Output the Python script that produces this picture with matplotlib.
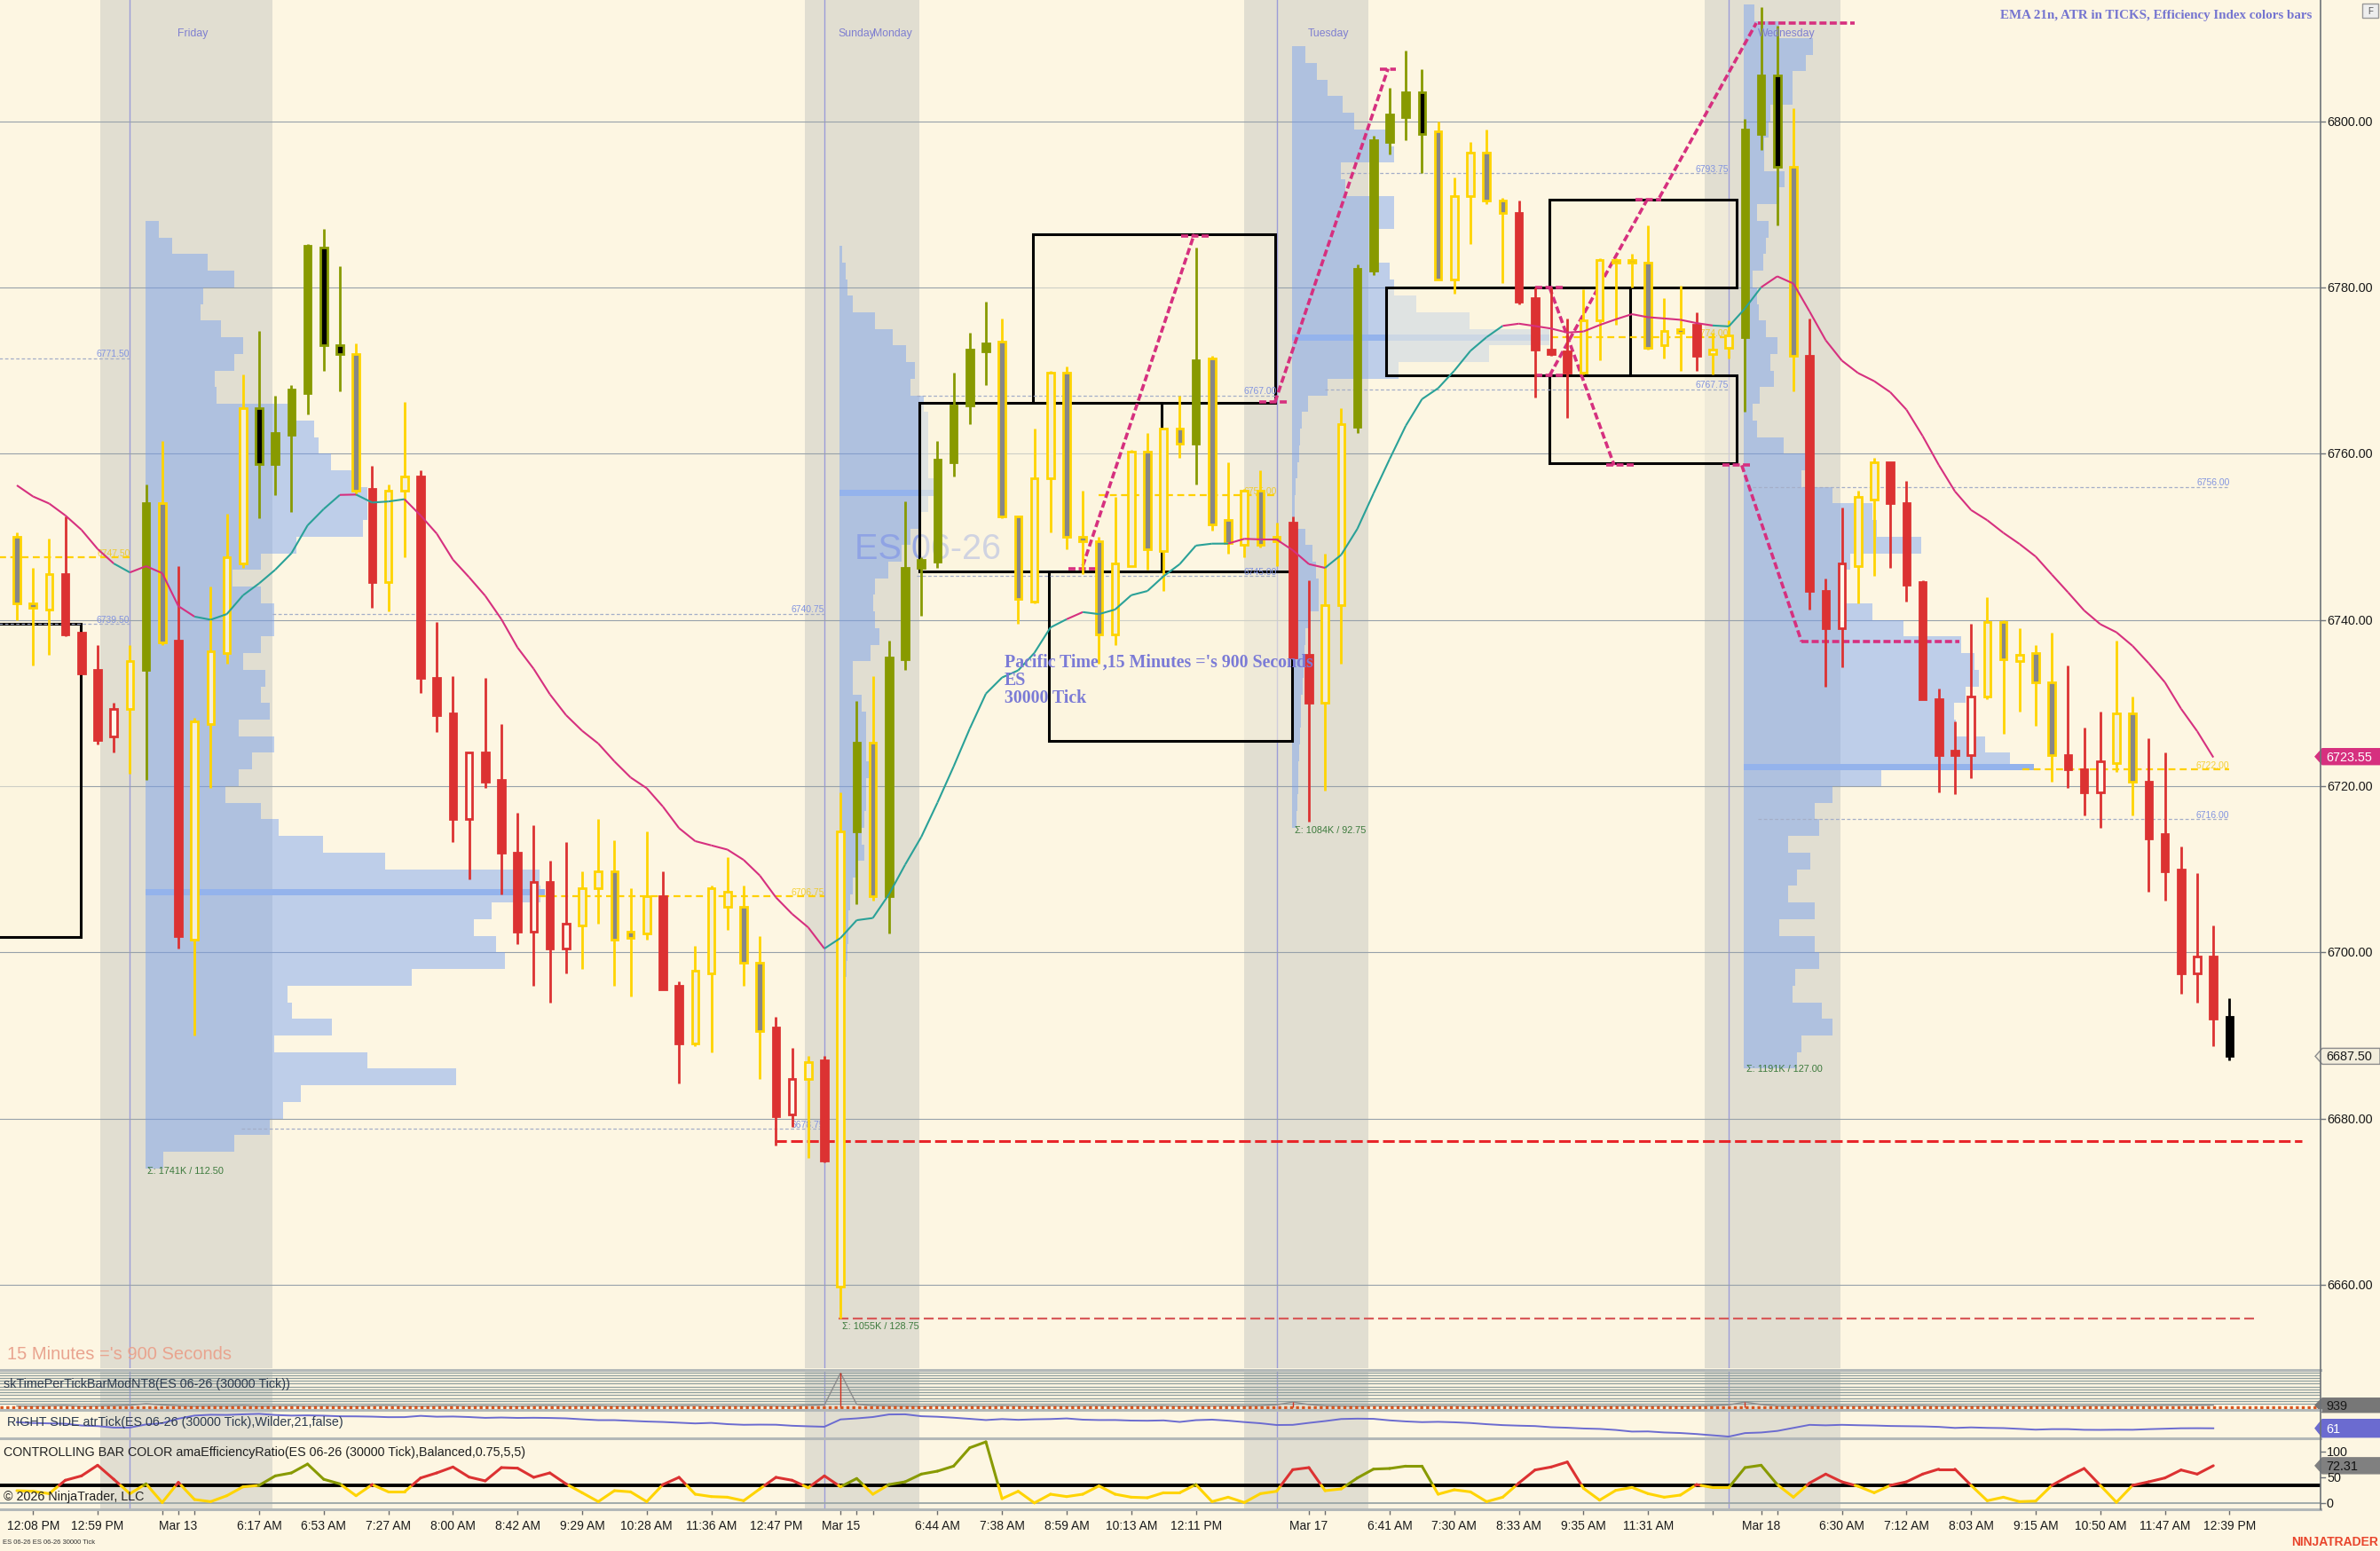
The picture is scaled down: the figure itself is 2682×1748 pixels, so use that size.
import numpy as np
import matplotlib
matplotlib.use("Agg")
import matplotlib.pyplot as plt
from matplotlib.patches import Rectangle, Polygon
from matplotlib.collections import LineCollection
from matplotlib.transforms import blended_transform_factory

plt.rcParams['font.family'] = ['Liberation Sans', 'DejaVu Sans']

# ---------------- data ----------------
# bar colours set by the efficiency indicator: r = red, y = yellow, g = olive, k = live bar
bar_colors = ("yyyrrrrygy" "ryyyyggggg" "gyryyrrrrr" "rrrrryyyyy" "rryyyyyrry"
              "rygygggggg" "gyyyyyyyyy" "yyygyyyyyr" "ryygggggyy" "yyyrrrryyy"
              "yyyyryyggg" "yrrryyrrrr" "rryyyyyrrr" "yyrrrrrk")

opens = [
    6750.0, 6742.0, 6741.25, 6745.5, 6738.5, 6734.0, 6726.0, 6729.25, 6734.0, 6754.0,
    6737.5, 6701.5, 6727.5, 6736.0, 6746.75, 6765.5, 6758.75, 6762.25, 6767.25, 6784.75,
    6773.0, 6772.0, 6755.75, 6744.5, 6755.5, 6757.25, 6733.0, 6728.75, 6716.0, 6724.0,
    6720.75, 6712.0, 6702.5, 6708.5, 6700.5, 6703.25, 6707.75, 6709.75, 6702.5, 6702.25,
    6706.75, 6696.0, 6689.0, 6697.5, 6705.5, 6705.5, 6698.75, 6691.0, 6680.5, 6684.75,
    6687.0, 6659.75, 6714.5, 6725.25, 6706.75, 6735.25, 6746.25, 6747.0, 6759.0, 6765.75,
    6772.25, 6773.5, 6752.5, 6742.25, 6757.0, 6769.75, 6750.0, 6749.5, 6738.25, 6746.5,
    6760.25, 6748.25, 6763.0, 6761.25, 6771.5, 6752.0, 6749.0, 6755.5, 6750.0, 6751.75,
    6735.75, 6730.0, 6741.75, 6763.25, 6782.0, 6797.5, 6800.5, 6803.5, 6798.75, 6781.0,
    6791.0, 6796.25, 6790.5, 6789.0, 6778.75, 6772.5, 6772.25, 6769.75, 6776.0, 6783.25,
    6783.25, 6783.0, 6773.0, 6775.0, 6775.5, 6772.0, 6772.75, 6774.0, 6798.5, 6805.5,
    6794.5, 6771.75, 6743.5, 6739.0, 6746.5, 6754.5, 6759.0, 6754.0, 6744.5, 6730.5,
    6724.25, 6723.75, 6730.75, 6739.75, 6735.0, 6736.0, 6732.5, 6723.75, 6722.0, 6719.25,
    6722.75, 6728.75, 6720.5, 6714.25, 6710.0, 6697.5, 6699.5, 6692.25]
highs = [
    6750.5, 6746.25, 6749.75, 6752.5, 6738.5, 6737.0, 6730.0, 6737.0, 6756.25, 6761.5,
    6746.5, 6728.25, 6744.0, 6752.75, 6769.5, 6774.75, 6767.0, 6768.25, 6785.25, 6787.0,
    6782.5, 6773.25, 6758.5, 6756.25, 6766.25, 6758.0, 6739.75, 6733.25, 6724.0, 6733.0,
    6727.5, 6716.75, 6715.25, 6711.0, 6713.25, 6709.75, 6716.0, 6713.5, 6707.75, 6714.5,
    6709.75, 6696.5, 6700.75, 6708.0, 6711.5, 6708.0, 6702.0, 6692.25, 6688.5, 6687.5,
    6687.5, 6719.25, 6730.25, 6733.25, 6737.5, 6754.25, 6747.5, 6761.5, 6769.75, 6774.5,
    6778.25, 6776.25, 6752.5, 6763.0, 6770.0, 6770.5, 6755.5, 6750.0, 6754.75, 6760.5,
    6762.5, 6763.0, 6767.0, 6784.75, 6771.75, 6759.0, 6755.75, 6758.0, 6751.75, 6752.5,
    6744.75, 6748.0, 6765.5, 6782.75, 6798.25, 6804.0, 6808.5, 6806.25, 6800.0, 6793.25,
    6797.5, 6799.0, 6790.75, 6790.5, 6780.0, 6780.0, 6776.25, 6779.75, 6783.5, 6783.5,
    6784.0, 6787.5, 6778.75, 6780.25, 6777.0, 6774.5, 6776.0, 6800.25, 6813.75, 6811.5,
    6801.5, 6776.25, 6745.0, 6753.5, 6755.5, 6759.5, 6759.0, 6756.75, 6744.75, 6731.75,
    6727.75, 6739.5, 6742.75, 6740.0, 6739.0, 6737.0, 6738.5, 6734.5, 6727.0, 6729.0,
    6737.5, 6730.75, 6725.75, 6724.0, 6712.75, 6709.5, 6703.25, 6694.5]
lows = [
    6740.0, 6734.5, 6735.75, 6738.0, 6733.5, 6725.0, 6724.0, 6721.5, 6720.75, 6737.0,
    6700.5, 6690.0, 6719.75, 6734.75, 6746.25, 6752.25, 6755.0, 6753.0, 6764.75, 6770.0,
    6767.5, 6755.0, 6741.5, 6741.0, 6747.5, 6731.25, 6726.5, 6713.25, 6708.75, 6719.75,
    6707.0, 6701.0, 6696.0, 6694.0, 6697.5, 6698.0, 6703.5, 6696.0, 6694.75, 6701.5,
    6695.5, 6684.25, 6688.75, 6688.0, 6702.75, 6696.0, 6684.75, 6676.75, 6679.0, 6675.25,
    6674.75, 6656.0, 6705.75, 6706.25, 6702.25, 6734.0, 6740.5, 6746.25, 6757.25, 6763.5,
    6768.25, 6752.25, 6739.5, 6742.0, 6750.5, 6748.5, 6745.5, 6734.75, 6737.0, 6746.5,
    6746.0, 6743.5, 6759.5, 6756.25, 6750.75, 6748.0, 6747.5, 6748.75, 6746.5, 6735.5,
    6715.75, 6719.5, 6734.75, 6762.5, 6781.5, 6796.0, 6797.75, 6793.75, 6781.0, 6779.25,
    6785.25, 6790.0, 6780.5, 6778.0, 6766.75, 6771.75, 6764.25, 6769.5, 6771.25, 6775.5,
    6780.0, 6772.5, 6771.5, 6770.0, 6770.0, 6769.5, 6771.5, 6765.0, 6796.5, 6787.5,
    6767.5, 6741.25, 6732.0, 6734.25, 6742.0, 6745.25, 6746.25, 6742.25, 6730.5, 6719.25,
    6719.0, 6721.0, 6730.5, 6726.25, 6729.0, 6727.25, 6720.5, 6719.75, 6716.5, 6715.0,
    6721.75, 6716.5, 6707.25, 6706.25, 6695.0, 6694.0, 6688.75, 6687.0]
closes = [
    6742.0, 6741.5, 6745.5, 6738.25, 6733.5, 6725.5, 6729.25, 6735.0, 6754.0, 6737.25,
    6702.0, 6727.75, 6736.25, 6747.5, 6765.5, 6758.75, 6762.5, 6767.75, 6785.0, 6773.0,
    6772.0, 6755.5, 6744.5, 6755.5, 6757.25, 6733.0, 6728.5, 6716.0, 6724.0, 6720.5,
    6712.0, 6702.5, 6708.5, 6700.5, 6703.5, 6707.75, 6709.75, 6701.5, 6701.75, 6706.75,
    6695.5, 6689.0, 6697.75, 6707.75, 6707.25, 6698.75, 6690.5, 6680.25, 6684.75, 6686.75,
    6675.0, 6714.5, 6725.25, 6706.75, 6735.5, 6746.25, 6747.25, 6759.25, 6765.75, 6772.5,
    6773.25, 6752.5, 6742.5, 6757.0, 6769.75, 6750.0, 6749.5, 6738.25, 6746.75, 6760.25,
    6748.5, 6763.0, 6761.25, 6771.25, 6751.5, 6749.25, 6755.5, 6749.0, 6749.5, 6735.5,
    6730.0, 6741.75, 6763.5, 6782.25, 6797.75, 6800.75, 6803.5, 6798.5, 6781.0, 6791.0,
    6796.25, 6790.5, 6789.0, 6778.25, 6772.5, 6772.0, 6769.75, 6776.0, 6783.25, 6783.0,
    6783.0, 6772.75, 6774.75, 6774.5, 6771.75, 6772.5, 6774.25, 6799.0, 6805.5, 6794.5,
    6771.75, 6743.5, 6739.0, 6746.75, 6754.75, 6759.0, 6754.0, 6744.25, 6730.5, 6723.75,
    6723.75, 6730.75, 6739.75, 6735.25, 6735.75, 6732.5, 6723.75, 6722.0, 6719.25, 6723.0,
    6728.75, 6720.5, 6713.75, 6709.75, 6697.5, 6699.5, 6692.0, 6687.5]

ema_seed = 6757.6      # EMA value before first visible bar
atr_seed = 69.0        # ATR (ticks) before first visible bar
tick_size = 0.25

# values printed in the right-hand tags of the reference
ema_tag_value = 6723.55
atr_tag_value = 61

# efficiency ratio (closed bars only)
eff_ratio = [
    23.8, 22.6, 18.0, 44.0, 52.5, 73.2, 45.9, 18.0, 37.0, 0.8,
    39.9, 6.6, 2.5, 14.0, 31.3, 34.1, 52.5, 58.3, 75.5, 45.9,
    37.0, 14.0, 35.6, 21.5, 21.5, 48.5, 58.3, 69.8, 50.2, 42.8,
    68.6, 67.5, 49.7, 58.3, 37.0, 19.8, 2.5, 23.8, 21.5, 2.5,
    35.6, 49.7, 16.9, 12.3, 11.1, 4.3, 27.2, 49.7, 44.0, 29.5,
    52.5, 31.3, 47.4, 16.9, 35.6, 41.0, 56.0, 61.7, 71.5, 107.1,
    118.6, 8.3, 22.6, 0.0, 16.9, 12.3, 16.9, 33.0, 16.9, 11.1,
    10.0, 19.8, 19.8, 35.6, 2.5, 11.1, 0.8, 18.0, 22.6, 64.6,
    68.6, 23.8, 27.2, 48.5, 65.7, 66.9, 71.5, 71.5, 16.9, 25.5,
    21.5, 2.5, 11.1, 38.7, 64.0, 69.8, 79.5, 28.4, 5.4, 24.4,
    30.1, 18.0, 11.1, 15.2, 35.6, 29.9, 29.9, 68.6, 73.2, 35.6,
    11.1, 38.7, 56.0, 41.0, 32.4, 19.8, 34.1, 41.0, 56.0, 65.7,
    65.7, 34.1, 4.3, 11.1, 2.5, 3.6, 34.1, 51.4, 66.9, 34.1,
    1.3, 34.1, 41.0, 48.5, 64.0, 56.0, 72.31]
er_threshold = 34.0

# seconds per 30000-tick bar
bar_seconds = [
    921, 918, 925, 930, 917, 922, 928, 940, 975, 945,
    926, 919, 924, 921, 930, 918, 922, 927, 920, 925,
    923, 919, 926, 930, 921, 917, 924, 928, 920, 926,
    922, 918, 925, 929, 921, 924, 927, 919, 923, 926,
    920, 925, 928, 918, 924, 921, 927, 923, 919, 935,
    945, 1700, 960, 930, 924, 921, 918, 926, 922, 925,
    920, 927, 923, 919, 926, 921, 924, 928, 920, 925,
    922, 926, 919, 924, 921, 927, 923, 930, 950, 1015,
    955, 926, 921, 918, 925, 922, 920, 927, 923, 926,
    919, 924, 928, 921, 925, 918, 922, 926, 920, 924,
    927, 921, 925, 919, 923, 930, 948, 1015, 955, 924,
    921, 926, 918, 925, 922, 927, 920, 924, 928, 921,
    925, 919, 923, 926, 920, 924, 927, 921, 925, 930,
    926, 932, 929, 934, 936, 937, 939]
bar_seconds_limit = 900

# sessions (bar positions)
session_bands = [(5.15, 15.8), (48.8, 55.9), (75.97, 83.7), (104.5, 112.9)]
session_lines = [7, 50, 78, 106]
day_labels = [(10.9, "Friday"), (52.0, "Sunday"), (54.2, "Monday"), (81.2, "Tuesday"), (109.6, "Wednesday")]

# volume profiles: first bar of session, top price, relative volume per 2-point row (top -> down), POC
profile_start = [8, 51, 79, 107]
profile_top = [6788, 6785, 6809, 6814]
profile_poc = [6707.25, 6755.25, 6774.0, 6722.25]
profile_poc_vol = [450, 106, 290, 327]
profile_sum = ["Σ: 1741K / 112.50", "Σ: 1055K / 128.75", "Σ: 1084K / 92.75", "Σ: 1191K / 127.00"]
profile_sum_price = [6673.8, 6655.1, 6714.8, 6686.1]
prof_fri = [15, 30, 70, 100, 65, 62, 85, 110, 100, 78, 80, 160, 190, 195, 209, 240, 250, 250, 245, 170,
            130, 98, 130, 145, 145, 130, 110, 135, 130, 140, 105, 145, 120, 105, 90, 130,
            150, 200, 270, 444, 445, 390, 370, 395, 405, 300, 160, 165, 210, 145, 250, 350, 175, 155, 140, 100, 20]
prof_mon = [3, 7, 9, 15, 40, 60, 75, 85, 80, 95, 100, 100, 100, 100, 106, 100, 90, 80, 70, 55,
            40, 38, 40, 45, 35, 15, 15, 25, 30, 30, 30, 35, 30, 30, 28, 25, 28, 20, 15, 12,
            10, 10, 9, 8, 6, 5, 5, 4, 4, 4, 3, 3, 3, 3, 3, 3, 3, 3, 3, 2, 2, 2, 2, 2]
prof_tue = [15, 28, 40, 57, 70, 110, 115, 55, 60, 115, 115, 95, 90, 110, 115, 140, 200, 290, 222, 120,
            40, 18, 11, 9, 8, 6, 4, 3, 3, 15, 23, 27, 30, 30, 20, 15, 14, 13, 12, 10, 10, 9, 8, 7, 7, 6, 5]
prof_wed = [12, 40, 78, 70, 55, 55, 30, 28, 23, 23, 46, 40, 15, 28, 25, 22, 10, 15, 17, 25,
            38, 30, 34, 18, 10, 15, 45, 70, 65, 100, 145, 150, 200, 120, 108, 112, 145, 180, 245, 260,
            265, 250, 237, 239, 272, 300, 155, 100, 80, 85, 50, 75, 60, 50, 80, 40, 80, 85, 58, 55,
            88, 100, 65, 60]
profiles = [prof_fri, prof_mon, prof_tue, prof_wed]

# naked levels: price, from bar, to bar, kind, label
levels = [
    (6771.5, -1.1, 7.0, 'b', "6771.50"), (6747.5, -1.1, 7.0, 'y', "6747.50"),
    (6739.5, -1.1, 7.0, 'b', "6739.50"), (6740.75, 15.8, 50.0, 'b', "6740.75"),
    (6706.75, 32.3, 50.0, 'y', "6706.75"), (6678.75, 13.9, 50.0, 'b', "6678.75"),
    (6767.0, 55.7, 78.0, 'b', "6767.00"), (6755.0, 67.0, 78.0, 'y', "6755.00"),
    (6745.25, 55.7, 78.0, 'b', "6745.00"), (6793.75, 82.0, 106.0, 'b', "6793.75"),
    (6774.0, 95.0, 106.0, 'y', "6774.00"), (6767.75, 81.0, 106.0, 'b', "6767.75"),
    (6756.0, 107.5, 137.0, 'b', "6756.00"), (6722.0, 124.2, 137.0, 'y', "6722.00"),
    (6716.0, 107.8, 137.0, 'b', "6716.00")]

# drawn rectangles: bar0, bar1, price0, price1
boxes = [(-3.0, 3.96, 6701.9, 6739.5), (62.9, 77.9, 6766.1, 6786.4), (55.9, 70.9, 6745.8, 6766.1),
         (63.9, 78.95, 6725.4, 6745.8), (84.8, 99.9, 6769.4, 6780.0), (94.9, 106.5, 6780.0, 6790.6),
         (94.9, 106.5, 6758.8, 6769.4)]
# drawn swing lines (bar, price, bar, price)
swing_lines = [(66.0, 6746.5, 72.9, 6786.4), (77.9, 6766.2, 84.9, 6806.3),
               (94.9, 6780.0, 98.9, 6758.6), (94.9, 6769.4, 100.9, 6790.4),
               (101.7, 6790.8, 107.7, 6811.8), (106.8, 6758.6, 110.5, 6737.4)]
swing_ticks = [(65.1, 66.9, 6746.2), (72.1, 73.8, 6786.2), (76.9, 78.8, 6766.2), (84.4, 85.4, 6806.3),
               (94.0, 95.7, 6780.0), (94.0, 95.7, 6769.4), (98.4, 100.1, 6758.6), (100.2, 101.8, 6790.6),
               (107.8, 113.8, 6811.85), (105.6, 107.3, 6758.6), (110.5, 120.3, 6737.4)]
stop_lines = [(46.9, 141.5, 6677.25, 'main'), (50.9, 138.5, 6656.0, 'low')]

# EMA colour: teal segments (start bar, end bar)
ema_teal = [(6, 7), (11, 20), (21, 24), (50, 65), (66, 75), (81, 92), (105, 108)]

time_ticks = [1, 5, 10, 15, 19, 23, 27, 31, 35, 39, 43, 47, 51, 57, 61, 65, 69, 73,
              80, 85, 89, 93, 97, 101, 108, 113, 117, 121, 125, 129, 133, 137]
time_labels = ["12:08 PM", "12:59 PM", "Mar 13", "6:17 AM", "6:53 AM", "7:27 AM", "8:00 AM",
               "8:42 AM", "9:29 AM", "10:28 AM", "11:36 AM", "12:47 PM", "Mar 15", "6:44 AM",
               "7:38 AM", "8:59 AM", "10:13 AM", "12:11 PM", "Mar 17", "6:41 AM", "7:30 AM",
               "8:33 AM", "9:35 AM", "11:31 AM", "Mar 18", "6:30 AM", "7:12 AM", "8:03 AM",
               "9:15 AM", "10:50 AM", "11:47 AM", "12:39 PM"]
time_minor = [9, 11, 52, 53, 81, 105, 109]
price_ticks = [6660, 6680, 6700, 6720, 6740, 6760, 6780, 6800]

# ---------------- style ----------------
W, H = 2682, 1749
BG = '#FDF6E2'
BAND = '#E1DED1'
RED = '#DC3232'
YEL = '#FFD400'
OLV = '#889A00'
MAG = '#D6307F'
TEAL = '#2AA198'
PROF = (0.45, 0.62, 0.95, 0.45)
BAR_W = 18.2                    # pixels per bar
XMIN, XMAX = -19 / BAR_W, (2615 - 19) / BAR_W


def fy(py):
    return 1 - py / H


fig = plt.figure(figsize=(W / 100, H / 100), dpi=100, facecolor=BG)
ax = fig.add_axes([0, fy(1543), 2615 / W, 1543 / H])
ax_sk = fig.add_axes([0, fy(1589), 2615 / W, 44 / H])
ax_atr = fig.add_axes([0, fy(1622), 2615 / W, 32 / H])
ax_er = fig.add_axes([0, fy(1702), 2615 / W, 80 / H])
for a in (ax, ax_sk, ax_atr, ax_er):
    a.set_facecolor(BG)
    a.set_xlim(XMIN, XMAX)
    for s in a.spines.values():
        s.set_visible(False)
    a.set_xticks([])
    a.set_yticks([])
    for b0, b1 in session_bands:
        a.axvspan(b0, b1, color=BAND, lw=0, zorder=0)
    for x in session_lines:
        a.axvline(x, color='#9C9CD8', lw=1.0, zorder=1)

ax.set_ylim(6649.97, 6814.68)
for p in price_ticks:
    ax.axhline(p, color='#97A1AA', lw=0.8, zorder=1)

# volume profiles
for start, top, vols, poc, pocv in zip(profile_start, profile_top, profiles, profile_poc, profile_poc_vol):
    centers = [top - 1 - 2 * k for k in range(len(vols))]
    ax.barh(centers, [v / BAR_W for v in vols], height=2.0, left=start - 0.05,
            color=PROF, lw=0, zorder=2)
    ax.barh([poc], [pocv / BAR_W], height=0.75, left=start - 0.05, color='#94B3EC', lw=0, zorder=2.5)
for start, txt, p in zip(profile_start, profile_sum, profile_sum_price):
    ax.text(start + 0.1, p, txt, fontsize=7.8, color='#3C7A3C', va='center', ha='left', zorder=3)

# watermark
ax.text(56.4, 6748.6, "ES 06-26", fontsize=28.5, color='#8A9EE6', alpha=0.85,
        ha='center', va='center', zorder=2.8)

# rectangles
for x0, x1, p0, p1 in boxes:
    ax.add_patch(Rectangle((x0, p0), x1 - x0, p1 - p0, facecolor=(0.99, 0.96, 0.87, 0.55),
                           edgecolor='black', lw=2.2, zorder=3))

# naked levels
for lvl, x0, x1, kind, lab in levels:
    if kind == 'y':
        ax.plot([x0, x1], [lvl, lvl], color='#FFD000', lw=1.6, dashes=(3.5, 2.2), zorder=3.5)
        ax.text(x1, lvl + 0.05, lab, fontsize=7.5, color='#F2C400', alpha=0.75,
                ha='right', va='bottom', zorder=3.6)
    else:
        ax.plot([x0, x1], [lvl, lvl], color='#A4AEC8', lw=0.9, dashes=(3, 2), zorder=3.5)
        ax.text(x1, lvl + 0.05, lab, fontsize=7.5, color='#8294E0',
                ha='right', va='bottom', zorder=3.6)

# stop lines
for x0, x1, p, kind in stop_lines:
    if kind == 'main':
        ax.plot([x0, x1], [p, p], color='#E8262A', lw=2.2, dashes=(4.3, 1.6), zorder=4)
    else:
        ax.plot([x0, x1], [p, p], color='#D85A5A', lw=1.6, dashes=(5, 2.2), zorder=4)

# swing drawings
for x0, p0, x1, p1 in swing_lines:
    ax.plot([x0, x1], [p0, p1], color=MAG, lw=2.6, dashes=(2.2, 1.0), zorder=4)
for x0, x1, p in swing_ticks:
    ax.plot([x0, x1], [p, p], color=MAG, lw=2.6, dashes=(2.2, 1.0), zorder=4)

# candles
n = len(closes)
xs = np.arange(n)
face_map = {('r', True): '#FFF8EA', ('r', False): RED, ('y', True): '#F3EEDC', ('y', False): '#878787',
            ('g', True): OLV, ('g', False): 'black', ('k', True): 'black', ('k', False): 'black'}
edge_map = {'r': RED, 'y': YEL, 'g': OLV, 'k': 'black'}
wick_cols = [edge_map[c] for c in bar_colors]
ax.vlines(xs, lows, highs, colors=wick_cols, lw=2.0, zorder=5)
bottoms = [min(o, c) for o, c in zip(opens, closes)]
heights = [max(abs(c - o), 0.12) for o, c in zip(opens, closes)]
faces = [face_map[(col, c >= o)] for col, o, c in zip(bar_colors, opens, closes)]
ax.bar(xs, heights, bottom=bottoms, width=0.42, color=faces, edgecolor=wick_cols, lw=2.0, zorder=6)

# EMA 21 on closed bars
ema = []
e = ema_seed
for c in closes[:-1]:
    e += (c - e) * 2.0 / 22.0
    ema.append(e)
segs, cols = [], []
for i in range(1, len(ema)):
    teal = any(a <= i - 1 < b for a, b in ema_teal)
    segs.append([(i - 1, ema[i - 1]), (i, ema[i])])
    cols.append(TEAL if teal else MAG)
ax.add_collection(LineCollection(segs, colors=cols, lw=1.5, zorder=7))

# text annotations on price panel
tr_xa = blended_transform_factory(ax.transData, ax.transAxes)
for x, lab in day_labels:
    ax.text(x, 1 - 38 / 1543, lab, transform=tr_xa, fontsize=8.8, color='#7F7FD0',
            ha='center', va='center', zorder=8)
ax.text(61.15, 6736.0, "Pacific Time ,15 Minutes ='s 900 Seconds\nES\n30000 Tick",
        family=['Liberation Serif', 'DejaVu Serif'], weight='bold', fontsize=14.3, color='#7B7BD6',
        ha='left', va='top', linespacing=1.0, zorder=8)
fig.text(2605 / W, fy(17), "EMA 21n, ATR in TICKS, Efficiency Index colors bars",
         family=['Liberation Serif', 'DejaVu Serif'], weight='bold', fontsize=10.8, color='#7575D0',
         ha='right', va='center')
fig.text(8 / W, fy(1527), "15 Minutes ='s 900 Seconds", fontsize=14.5, color='#E9A48F',
         ha='left', va='center')

# ---------------- time per bar panel ----------------
ax_sk.set_ylim(850, 1770)
for g in np.linspace(976, 1716, 12):
    ax_sk.axhline(g, color='#8E9E9E', lw=0.9, zorder=1)
ax_sk.axhline(bar_seconds_limit, color='#D9541E', lw=2.4, ls=(0, (1, 1)), zorder=3)
ax_sk.plot(xs[:-1], bar_seconds, color='#8C8C8C', lw=1.0, zorder=2)
for i, s in enumerate(bar_seconds):
    if s > 1000:
        ax_sk.vlines(i, bar_seconds_limit, s, color='#D03020', lw=1.0, zorder=2.5)

# ---------------- ATR panel ----------------
atr = []
a_val = atr_seed
prev_c = None
for o, h, l, c in list(zip(opens, highs, lows, closes))[:-1]:
    tr = h - l if prev_c is None else max(h - l, abs(h - prev_c), abs(l - prev_c))
    a_val += (tr / tick_size - a_val) / 21.0
    atr.append(a_val)
    prev_c = c
atr_last = atr[-1]
ax_atr.set_ylim(atr_last - (1622 - 1610.7) * 1.1, atr_last + (1610.7 - 1590) * 1.1)
ax_atr.plot(xs[:-1], atr, color='#6B6BD0', lw=1.4, zorder=3)

# ---------------- efficiency panel ----------------
ax_er.set_ylim(-12.4, 125.5)
ax_er.axhline(0, color='#9AA6A6', lw=1.3, zorder=1)
ax_er.axhline(er_threshold, color='black', lw=2.8, zorder=2)


def above_color(i, j):
    order = [i, j] if eff_ratio[i] >= eff_ratio[j] else [j, i]
    for k in order + [i - 1, j + 1, i - 2, j + 2]:
        if 0 <= k < len(bar_colors) and bar_colors[k] in 'rg':
            return RED if bar_colors[k] == 'r' else OLV
    return RED


esegs, ecols = [], []
for i in range(1, len(eff_ratio)):
    v0, v1 = eff_ratio[i - 1], eff_ratio[i]
    up = above_color(i - 1, i)
    if (v0 - er_threshold) * (v1 - er_threshold) < 0:
        xm = i - 1 + (er_threshold - v0) / (v1 - v0)
        esegs.append([(i - 1, v0), (xm, er_threshold)])
        ecols.append(up if v0 > er_threshold else YEL)
        esegs.append([(xm, er_threshold), (i, v1)])
        ecols.append(up if v1 > er_threshold else YEL)
    else:
        esegs.append([(i - 1, v0), (i, v1)])
        ecols.append(up if min(v0, v1) >= er_threshold and max(v0, v1) > er_threshold else YEL)
ax_er.add_collection(LineCollection(esegs, colors=ecols, lw=2.2, zorder=3, capstyle='round'))

# time axis
ax_er.set_xticks(time_ticks)
ax_er.set_xticklabels(time_labels, fontsize=10, color='#1A1A1A')
ax_er.set_xticks(time_minor, minor=True)
ax_er.tick_params(axis='x', which='both', length=4, width=1, color='#6A6A6A', pad=4)

# panel titles
fig.text(4 / W, fy(1560), "skTimePerTickBarModNT8(ES 06-26 (30000 Tick))", fontsize=10.3,
         color='#2D3B4E', va='center')
fig.text(8 / W, fy(1603), "RIGHT SIDE atrTick(ES 06-26 (30000 Tick),Wilder,21,false)", fontsize=10.3,
         color='#2D3B4E', va='center')
fig.text(4 / W, fy(1637), "CONTROLLING BAR COLOR amaEfficiencyRatio(ES 06-26 (30000 Tick),Balanced,0.75,5,5)",
         fontsize=10.3, color='#1F1F1F', va='center')
fig.text(4 / W, fy(1687), "© 2026 NinjaTrader, LLC", fontsize=10.3, color='#1F1F1F', va='center')
fig.text(3 / W, fy(1739), "ES 06-26 ES 06-26 30000 Tick", fontsize=5.5, color='#333333', va='center')
fig.text(2680 / W, fy(1738), "NINJATRADER", fontsize=10, color='#E8452C', weight='bold',
         ha='right', va='center')

# separators and right axis
for py in (1544.5, 1589.5, 1621.8, 1701.8):
    fig.add_artist(plt.Line2D([0, 2615 / W], [fy(py), fy(py)], color='#B3B8B8', lw=2.2))
fig.add_artist(plt.Line2D([2615 / W, 2615 / W], [fy(1702), 1], color='#6E7378', lw=1.2))


def ypix(a, v):
    return a.transData.transform((0, v))[1]


for p in price_ticks:
    yp = ypix(ax, p)
    fig.add_artist(plt.Line2D([2615 / W, 2620 / W], [yp / H, yp / H], color='#6E7378', lw=1))
    fig.text(2622 / W, yp / H, f"{p:.2f}", fontsize=10.4, color='#1A1A1A', va='center', ha='left')
for v in (0, 50, 100):
    yp = ypix(ax_er, v)
    fig.add_artist(plt.Line2D([2615 / W, 2620 / W], [yp / H, yp / H], color='#6E7378', lw=1))
    fig.text(2622 / W, yp / H, f"{v}", fontsize=10.4, color='#1A1A1A', va='center', ha='left')


def tag(yp, text, face, tcol, edge=None, hpx=18):
    pts = [(2609, yp), (2617, yp + hpx / 2), (2682, yp + hpx / 2), (2682, yp - hpx / 2), (2617, yp - hpx / 2)]
    fig.add_artist(Polygon([(x / W, y / H) for x, y in pts], closed=True, facecolor=face,
                           edgecolor=edge if edge else face, lw=1, transform=fig.transFigure))
    fig.text(2621 / W, yp / H, text, fontsize=10.4, color=tcol, va='center', ha='left')


tag(ypix(ax, ema_tag_value), f"{ema_tag_value:.2f}", MAG, 'white')
tag(ypix(ax, closes[-1]), f"{closes[-1]:.2f}", '#F2EDDC', '#1A1A1A', edge='#8C8C8C')
tag(ypix(ax_sk, bar_seconds[-1]), f"{bar_seconds[-1]}", '#777777', '#1A1A1A', hpx=16)
tag(ypix(ax_atr, atr_last), f"{atr_tag_value}", '#6B6BD0', 'white', hpx=20)
tag(ypix(ax_er, eff_ratio[-1]), f"{eff_ratio[-1]:.2f}", '#808080', '#111111')

# small F button
fig.add_artist(Rectangle((2662 / W, fy(21)), 18 / W, 16 / H, facecolor='#EEEEEE', edgecolor='#999999',
                         lw=1, transform=fig.transFigure))
fig.text(2671 / W, fy(13), "F", fontsize=7, color='#555555', ha='center', va='center')

fig.savefig("out.png", dpi=100, facecolor=BG)
